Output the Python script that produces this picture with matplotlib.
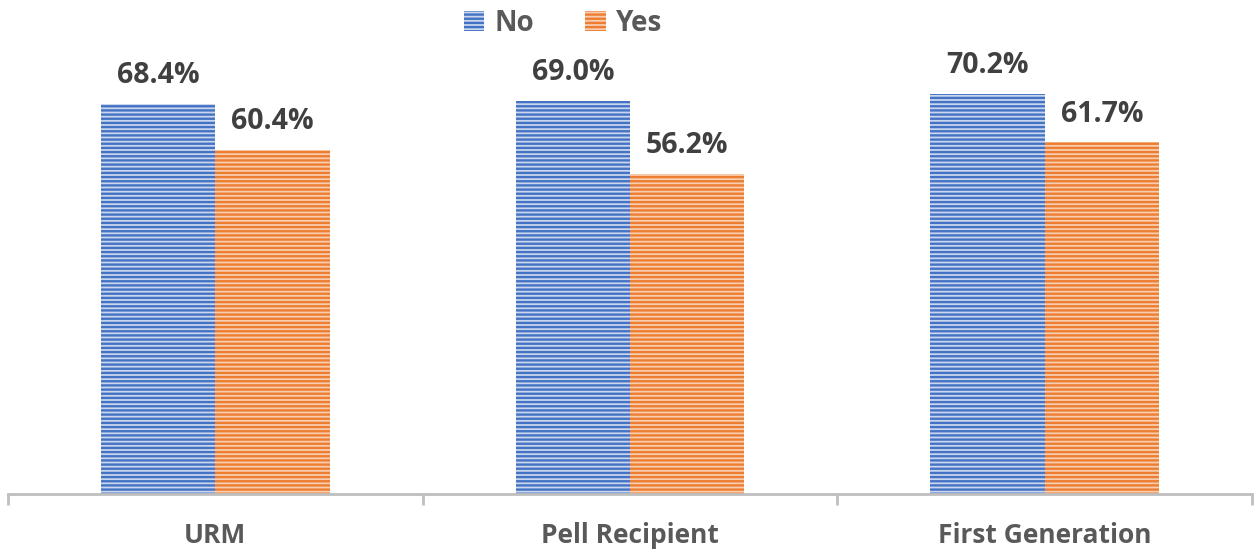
import numpy as np
import matplotlib
matplotlib.use("Agg")
import matplotlib.pyplot as plt
from matplotlib.patches import Patch

# data
categories = ["URM", "Pell Recipient", "First Generation"]
series_names = ["No", "Yes"]
no_vals = [68.4, 69.0, 70.2]
yes_vals = [60.4, 56.2, 61.7]

plt.rcParams["font.family"] = ["Open Sans", "DejaVu Sans"]
plt.rcParams["hatch.linewidth"] = 1.7

blue = "#4472C4"
orange = "#ED7D31"
blue_bg = "#C9D6EE"
orange_bg = "#F8CDB0"
txt = "#404040"
lbl = "#595959"

fig = plt.figure(figsize=(12.59, 5.52), dpi=100)
ax = fig.add_axes([8/1259, 58/552, 1244/1259, 494/552])

x = np.arange(len(categories))
w = 0.276
bars_no = ax.bar(x - w/2, no_vals, w, color=blue_bg, edgecolor=blue, linewidth=0, hatch="----")
bars_yes = ax.bar(x + w/2, yes_vals, w, color=orange_bg, edgecolor=orange, linewidth=0, hatch="----")

for bars, vals in [(bars_no, no_vals), (bars_yes, yes_vals)]:
    for b, v in zip(bars, vals):
        ax.annotate(f"{v:.1f}%", (b.get_x() + b.get_width()/2, v), xytext=(0, 10),
                    textcoords="offset points", ha="center", va="bottom",
                    fontsize=20.5, fontweight="bold", color=txt)

ax.set_xlim(-0.5, 2.5)
ax.set_ylim(0, 86.7)
for s in ["top", "right", "left"]:
    ax.spines[s].set_visible(False)
ax.spines["bottom"].set_color("#BFBFBF")
ax.spines["bottom"].set_linewidth(2)
ax.set_yticks([])
ax.set_xticks(x)
ax.set_xticklabels(categories, fontsize=19, fontweight="bold", color=lbl)
ax.tick_params(axis="x", which="major", length=0, pad=20)
ax.set_xticks([-0.5, 0.5, 1.5, 2.5], minor=True)
ax.tick_params(axis="x", which="minor", length=8, width=2, color="#BFBFBF")

handles = [Patch(facecolor=blue_bg, edgecolor=blue, linewidth=0, hatch="----"),
           Patch(facecolor=orange_bg, edgecolor=orange, linewidth=0, hatch="----")]
leg = fig.legend(handles, series_names, loc="upper center", bbox_to_anchor=(0.447, 1.029),
                 ncol=2, frameon=False, handlelength=0.75, handleheight=0.75,
                 handletextpad=0.35, columnspacing=1.85,
                 prop={"size": 20, "weight": "bold"})
for t in leg.get_texts():
    t.set_color(lbl)

plt.savefig("out.png", dpi=100)
